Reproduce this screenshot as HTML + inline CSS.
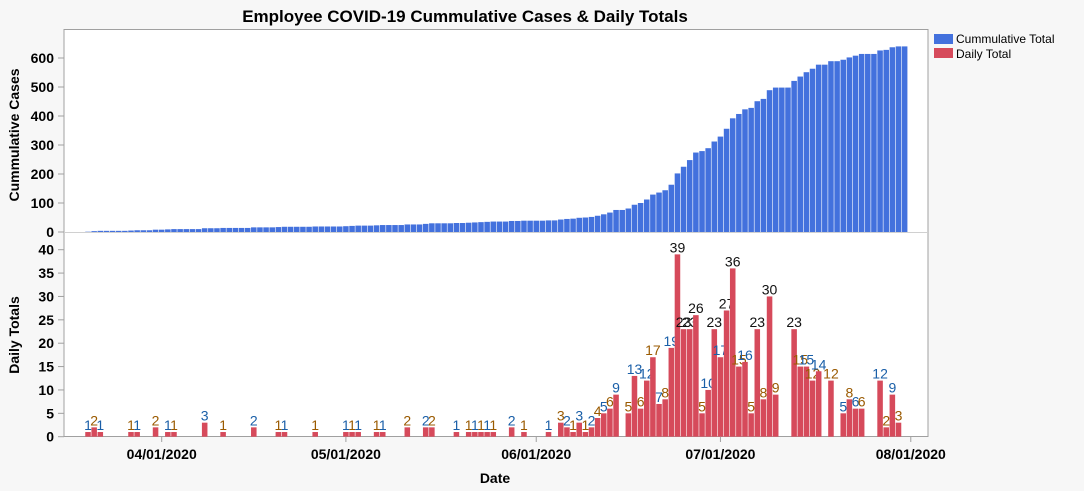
<!DOCTYPE html>
<html><head><meta charset="utf-8">
<style>
html,body{margin:0;padding:0;background:#f7f7f7;}
svg{display:block;font-family:"Liberation Sans","DejaVu Sans",sans-serif;}
</style></head>
<body>
<svg id="chart" width="1084" height="491" viewBox="0 0 1084 491">
  <rect x="0" y="0" width="1084" height="491" fill="#f7f7f7"/>
  <text x="465" y="22" text-anchor="middle" font-size="17" font-weight="bold" fill="#000">Employee COVID-19 Cummulative Cases &amp; Daily Totals</text>
  <rect x="64" y="29.5" width="864" height="407" fill="#fff" stroke="#a0a0a0"/>
  <line x1="64" y1="232.5" x2="928" y2="232.5" stroke="#d0d0d0"/>
  <text transform="translate(19,135) rotate(-90)" text-anchor="middle" font-size="14" font-weight="bold">Cummulative Cases</text>
  <text transform="translate(19,335) rotate(-90)" text-anchor="middle" font-size="14" font-weight="bold">Daily Totals</text>
  <text x="495" y="483" text-anchor="middle" font-size="14" font-weight="bold">Date</text>
  <g>
    <rect x="934" y="34" width="19" height="10" fill="#4371dd"/>
    <text x="956" y="43" font-size="12">Cummulative Total</text>
    <rect x="934" y="48" width="19" height="10" fill="#d64a5b"/>
    <text x="956" y="58" font-size="12">Daily Total</text>
  </g>
  <g id="marks"></g>
</svg>
<script>
// Day offsets are days relative to 2020-04-01
const dailyDays = [-12,-11,-10,-5,-4,-1,1,2,7,10,15,19,20,25,30,31,32,35,36,40,43,44,48,50,51,52,53,54,57,59,
  63,65,66,67,68,69,70,71,72,73,74,76,77,78,79,80,81,82,83,84,85,86,87,88,89,90,
  91,92,93,94,95,96,97,98,99,100,103,104,105,106,107,109,111,112,113,114,117,118,119,120];
const dailyValues = [1,2,1,1,1,2,1,1,3,1,2,1,1,1,1,1,1,1,1,2,2,2,1,1,1,1,1,1,2,1,
  1,3,2,1,3,1,2,4,5,6,9,5,13,6,12,17,7,8,19,39,23,23,26,5,10,23,
  17,27,36,15,16,5,23,8,30,9,23,15,15,12,14,12,5,8,6,6,12,2,9,3];
const cumStartDay = -13, cumEndDay = 121;
const xTickDays = [0,30,61,91,122];
const xTickLabels = ["04/01/2020","05/01/2020","06/01/2020","07/01/2020","08/01/2020"];
const cumTicks = [0,100,200,300,400,500,600];
const dailyTicks = [0,5,10,15,20,25,30,35,40];

const NS="http://www.w3.org/2000/svg";
const g=document.getElementById('marks');
function el(t,a){const e=document.createElementNS(NS,t);for(const k in a)e.setAttribute(k,a[k]);g.appendChild(e);return e;}
const x0=161.7, dayW=6.14;
function xScale(d){return x0+d*dayW;}
function yCum(v){return 232-v*0.29;}
function yDaily(v){return 436.7-v*4.675;}

// cumulative series
const dailyMap={};dailyDays.forEach((d,i)=>dailyMap[d]=dailyValues[i]);
let run=0;
for(let d=cumStartDay; d<=cumEndDay; d++){
  run+=(dailyMap[d]||0);
  if(run<=0) continue;
  const y=yCum(run);
  const r=el('rect',{x:(xScale(d)-dayW/2+0.3).toFixed(2),y:y.toFixed(2),width:(dayW-0.6).toFixed(2),height:(232-y).toFixed(2),fill:'#4371dd'});
  
  
}
// daily bars
dailyDays.forEach((d,i)=>{
  const v=dailyValues[i], y=yDaily(v);
  const r=el('rect',{x:(xScale(d)-dayW/2+0.3).toFixed(2),y:y.toFixed(2),width:(dayW-0.6).toFixed(2),height:(436.7-y).toFixed(2),fill:'#d64a5b'});
  
  
  const col = v>=20 ? '#111' : (i%2===0 ? '#1a5fa8' : '#9a5a00');
  const t=el('text',{x:xScale(d).toFixed(2),y:(y-2).toFixed(2),'text-anchor':'middle','font-size':'14',fill:col});
  t.textContent=v;
  
  
});
// y ticks
cumTicks.forEach(v=>{
  const y=yCum(v);
  el('line',{x1:58,x2:64,y1:y,y2:y,stroke:'#a0a0a0'});
  const t=el('text',{x:54,y:y+5,'text-anchor':'end','font-size':'14','font-weight':'bold'});
  t.textContent=v;
  
  
});
dailyTicks.forEach(v=>{
  const y=yDaily(v);
  el('line',{x1:58,x2:64,y1:y,y2:y,stroke:'#a0a0a0'});
  const t=el('text',{x:54,y:y+5,'text-anchor':'end','font-size':'14','font-weight':'bold'});
  t.textContent=v;
  
  
});
// x ticks
xTickDays.forEach((d,i)=>{
  const x=xScale(d);
  el('line',{x1:x,x2:x,y1:436.7,y2:442,stroke:'#a0a0a0'});
  const t=el('text',{x:x,y:459,'text-anchor':'middle','font-size':'14','font-weight':'bold'});
  t.textContent=xTickLabels[i];
  
  
});
</script>
</body></html>
